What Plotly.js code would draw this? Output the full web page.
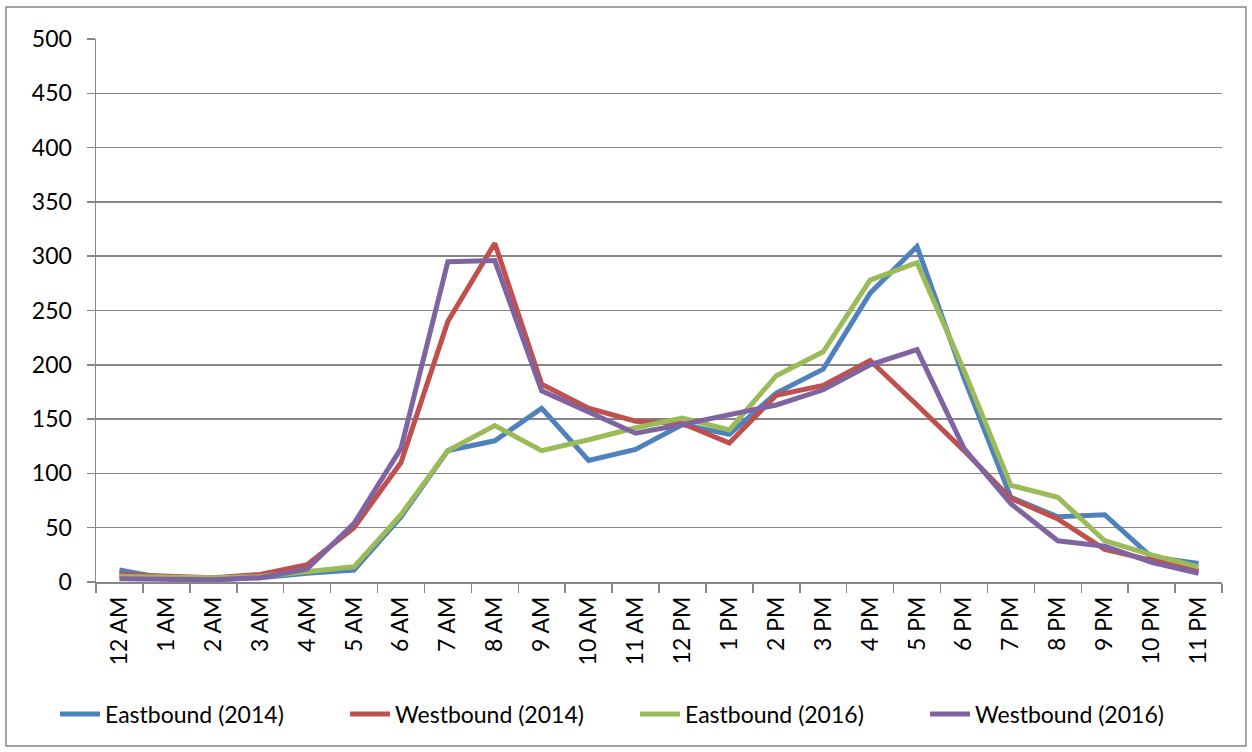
<!DOCTYPE html>
<html>
<head>
<meta charset="utf-8">
<script src="https://cdn.plot.ly/plotly-3.0.1.min.js"></script>
<style>
html,body{margin:0;padding:0;background:#fff;}
#chart{width:1252px;height:752px;}
</style>
</head>
<body>
<div id="chart"></div>
<script>
const hours = ["12 AM","1 AM","2 AM","3 AM","4 AM","5 AM","6 AM","7 AM","8 AM","9 AM","10 AM","11 AM",
               "12 PM","1 PM","2 PM","3 PM","4 PM","5 PM","6 PM","7 PM","8 PM","9 PM","10 PM","11 PM"];
const eastbound2014 = [11,3,2,4,8,11,60,121,130,160,112,122,145,136,174,196,266,309,188,78,60,62,23,17];
const westbound2014 = [7,5,4,7,16,50,110,240,312,182,160,148,146,128,172,181,204,163,121,77,58,30,20,10];
const eastbound2016 = [5,4,4,5,9,14,62,121,144,121,131,142,151,140,190,212,278,294,195,89,78,38,25,14];
const westbound2016 = [3,3,2,4,12,54,123,295,296,176,156,137,145,154,163,177,200,214,123,72,38,33,18,8];

const seriesNames = ["Eastbound (2014)","Westbound (2014)","Eastbound (2016)","Westbound (2016)"];
const seriesData = [eastbound2014, westbound2014, eastbound2016, westbound2016];
const colors = ["#4F81BD","#C0504D","#9BBB59","#8064A2"];

const traces = seriesData.map((ys, i) => ({
  x: hours, y: ys, name: seriesNames[i], type: "scatter", mode: "lines",
  line: {color: colors[i], width: 5}
}));

const fontFam = "Lato, 'Open Sans', sans-serif";
const layout = {
  width: 1252, height: 752,
  margin: {l: 96, r: 30, t: 39, b: 170, autoexpand: false},
  paper_bgcolor: "#fff", plot_bgcolor: "#fff",
  font: {family: fontFam, size: 23, color: "#000"},
  showlegend: true,
  legend: {orientation: "h",
           x: -0.0364, xanchor: "left", y: -0.243, yanchor: "middle",
           font: {family: fontFam, size: 23, color: "#000"}, itemwidth: 40, traceorder: "normal",
           entrywidth: 235, entrywidthmode: "pixels"},
  xaxis: {
    type: "category", tickangle: -90, tickson: "boundaries",
    ticks: "outside", ticklen: 9, tickcolor: "#868686", tickwidth: 1.5,
    showline: true, linecolor: "#868686", linewidth: 1.5,
    showgrid: false, zeroline: false, automargin: false,
    tickfont: {family: fontFam, size: 23, color: "#000"},
    ticklabelstandoff: 4,
    range: [-0.5, 23.5]
  },
  yaxis: {
    range: [0, 500], dtick: 50, tick0: 0,
    ticks: "outside", ticklen: 8, tickcolor: "#868686", tickwidth: 1.5,
    showline: true, linecolor: "#868686", linewidth: 1.5,
    showgrid: true, gridcolor: "#868686", gridwidth: 1.5,
    zeroline: false, ticklabelstandoff: 10, automargin: false,
    tickfont: {family: fontFam, size: 23, color: "#000"}
  },
  shapes: [{
    type: "rect", xref: "paper", yref: "paper",
    x0: -0.0799, x1: 1.0213, y0: -0.302, y1: 1.0589,
    line: {color: "#868686", width: 1.5}, layer: "below"
  }]
};

Plotly.newPlot("chart", traces, layout, {staticPlot: true, displayModeBar: false});
</script>
</body>
</html>
